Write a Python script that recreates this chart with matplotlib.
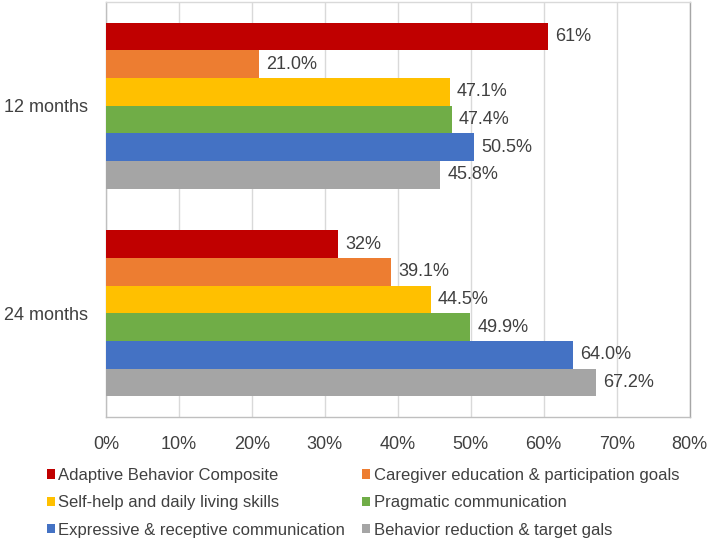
import numpy as np
import matplotlib
matplotlib.use("Agg")
import matplotlib.pyplot as plt
from matplotlib.patches import Patch

plt.rcParams['font.family'] = ['Liberation Sans', 'DejaVu Sans']

# data
categories = ["12 months", "24 months"]
series = ["Adaptive Behavior Composite",
          "Caregiver education & participation goals",
          "Self-help and daily living skills",
          "Pragmatic communication",
          "Expressive & receptive communication",
          "Behavior reduction & target gals"]
values_12 = [60.6, 21.0, 47.1, 47.4, 50.5, 45.8]
values_24 = [31.8, 39.1, 44.5, 49.9, 64.0, 67.2]
label_fmt = ["{:.0f}%", "{:.1f}%", "{:.1f}%", "{:.1f}%", "{:.1f}%", "{:.1f}%"]
colors = ["#C00000", "#ED7D31", "#FFC000", "#70AD47", "#4472C4", "#A5A5A5"]
xticks = [0, 10, 20, 30, 40, 50, 60, 70, 80]

text_col = "#404040"
fs = 13

fig = plt.figure(figsize=(7.08, 5.4), dpi=100)
ax = fig.add_axes([0.1497, 0.2278, 0.8243, 0.7685])

n = len(series)
group_w = 0.8
bar_h = group_w / n
y = np.arange(len(categories))
for i in range(n):
    vals = [values_12[i], values_24[i]]
    pos = y - group_w / 2 + bar_h * (i + 0.5)
    ax.barh(pos, vals, height=bar_h, color=colors[i], edgecolor='none', zorder=3)
    for p, v in zip(pos, vals):
        ax.text(v + 1.0, p, label_fmt[i].format(v), va='center', ha='left',
                fontsize=fs, color=text_col)

ax.set_ylim(1.5, -0.5)
ax.set_xlim(0, 80)
ax.set_yticks(y)
ax.set_yticklabels(categories, fontsize=fs, color=text_col)
ax.set_xticks(xticks)
ax.set_xticklabels([f"{t}%" for t in xticks], fontsize=fs, color=text_col)
ax.tick_params(axis='both', length=0)
ax.tick_params(axis='y', pad=13)
ax.tick_params(axis='x', pad=14)
ax.grid(axis='x', color='#D9D9D9', linewidth=1, zorder=0)
for s in ax.spines.values():
    s.set_color('#BFBFBF')
    s.set_linewidth(1)
ax.spines['right'].set_color('#A6A6A6')
ax.spines['top'].set_color('#D9D9D9')

# legend filled row by row like the original
order = [0, 2, 4, 1, 3, 5]
handles = [Patch(facecolor=colors[k], edgecolor='none') for k in order]
labels = [series[k] for k in order]
leg = fig.legend(handles, labels, ncol=2, loc='upper left',
                 bbox_to_anchor=(47 / 708, 1 - 468 / 540), frameon=False,
                 borderpad=0, borderaxespad=0,
                 fontsize=12, handlelength=0.48, handleheight=0.48,
                 handletextpad=0.2, columnspacing=1.02, labelspacing=0.74)
for t in leg.get_texts():
    t.set_color(text_col)

fig.savefig("out.png", dpi=100)
